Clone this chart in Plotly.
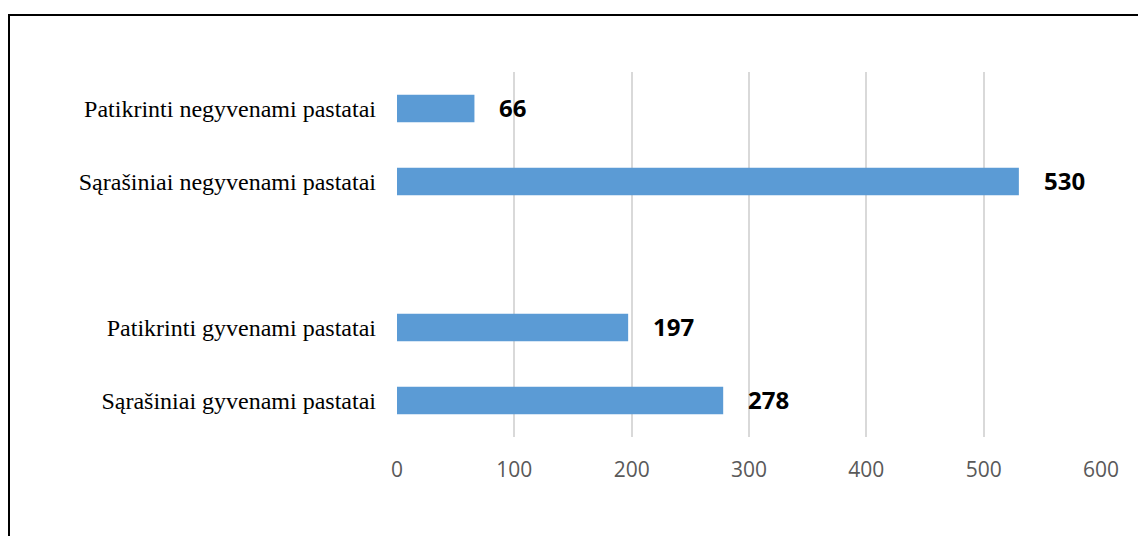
import plotly.graph_objects as go

# kategorijos nuo apacios i virsu (tuscia vieta tarp grupiu)
kategorijos = [
    "Sąrašiniai gyvenami pastatai",
    "Patikrinti gyvenami pastatai",
    " ",
    "Sąrašiniai negyvenami pastatai",
    "Patikrinti negyvenami pastatai",
]
reiksmes = [278, 197, None, 530, 66]
x_ticks = [0, 100, 200, 300, 400, 500, 600]

# puslapis turi 8px body parasti, todel figura mazesne
W, H = 1138, 528
L, R, T, B = 389, 45, 64, 99
pw, ph = W - L - R, H - T - B

fig = go.Figure()

fig.add_trace(go.Bar(
    x=reiksmes,
    y=kategorijos,
    orientation="h",
    width=0.38,
    marker=dict(color="#5B9BD5", line=dict(width=0)),
    hoverinfo="x+y",
))

# reiksmiu etiketes
for k, v in zip(kategorijos, reiksmes):
    if v is None:
        continue
    fig.add_annotation(
        x=v, y=k,
        text="<b>%d</b>" % v,
        showarrow=False,
        xanchor="left",
        xshift=23,
        yshift=1,
        font=dict(family="Open Sans, Lato, sans-serif", size=24, color="black"),
    )

# remelis aplink diagrama
fig.add_shape(
    type="rect",
    xref="paper", yref="paper",
    x0=(1 - L) / pw, x1=(W + 10 - L) / pw,
    y0=-(H + 10 - (T + ph)) / ph, y1=(T + ph - 7) / ph,
    line=dict(color="black", width=2),
    fillcolor="rgba(0,0,0,0)",
    layer="above",
)

fig.update_layout(
    width=W,
    height=H,
    margin=dict(l=L, r=R, t=T, b=B),
    plot_bgcolor="white",
    paper_bgcolor="white",
    showlegend=False,
    xaxis=dict(
        range=[0, 600],
        tickvals=x_ticks,
        showgrid=True,
        gridcolor="#d9d9d9",
        gridwidth=2,
        zeroline=False,
        showline=False,
        ticks="",
        ticklabelstandoff=18,
        tickfont=dict(family="Open Sans, Lato, sans-serif", size=21, color="#595959"),
    ),
    yaxis=dict(
        categoryorder="array",
        categoryarray=kategorijos,
        showgrid=False,
        zeroline=False,
        showline=False,
        ticks="",
        ticklabelstandoff=20,
        tickfont=dict(family="Liberation Serif, Times New Roman, serif", size=24, color="black"),
    ),
)

fig.write_html("out.html")
